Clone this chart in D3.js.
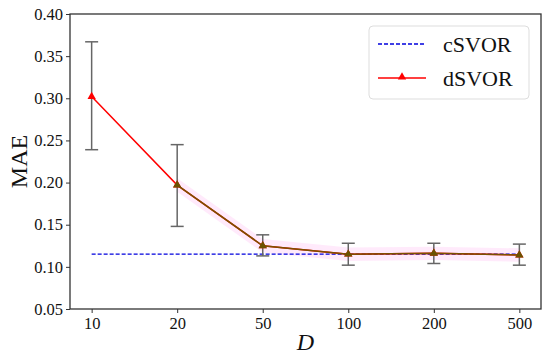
<!DOCTYPE html>
<meta charset="utf-8">
<style>
  body { margin: 0; background: #fff; }
  text { font-family: "Liberation Serif", "DejaVu Serif", serif; fill: #111; }
</style>
<svg width="550" height="356"></svg>
<script src="https://cdn.jsdelivr.net/npm/d3@7"></script>
<script>
var dims = ["10", "20", "50", "100", "200", "500"];
var dsvor = [0.302, 0.197, 0.125, 0.115, 0.116, 0.114];
var errLow = [0.239, 0.148, 0.113, 0.102, 0.104, 0.102];
var errHigh = [0.367, 0.245, 0.138, 0.128, 0.128, 0.127];
var csvor = [0.115, 0.115, 0.115, 0.115, 0.115, 0.115];
// overlapping second run, drawn from D=20 on
var overlayDims = ["20", "50", "100", "200", "500"];
var overlayVals = [0.197, 0.125, 0.115, 0.116, 0.114];
var bandLow = [0.189, 0.117, 0.107, 0.108, 0.106];
var bandHigh = [0.205, 0.133, 0.123, 0.124, 0.122];
var yTicks = [0.05, 0.10, 0.15, 0.20, 0.25, 0.30, 0.35, 0.40];

var svg = d3.select("svg"),
    pLeft = 70, pRight = 541, pTop = 14, pBottom = 309;

var x = d3.scalePoint().domain(dims).range([pLeft, pRight]).padding(0.253);
var y = d3.scaleLinear().domain([0.05, 0.40]).range([pBottom, pTop]);

// shaded band
svg.append("path")
    .datum(overlayDims.map(function(d, i) { return {d: d, lo: bandLow[i], hi: bandHigh[i]}; }))
    .attr("fill", "#ff55dd")
    .attr("fill-opacity", 0.12)
    .attr("d", d3.area()
        .x(function(p) { return x(p.d); })
        .y0(function(p) { return y(p.lo); })
        .y1(function(p) { return y(p.hi); }));

// cSVOR dashed
svg.append("path")
    .datum(dims.map(function(d, i) { return [x(d), y(csvor[i])]; }))
    .attr("fill", "none")
    .attr("stroke", "#0000dd")
    .attr("stroke-width", 1.3)
    .attr("stroke-dasharray", "4,2")
    .attr("d", d3.line());

// error bars
var eb = svg.append("g").attr("stroke", "#666").attr("stroke-width", 1.5);
dims.forEach(function(d, i) {
  eb.append("line").attr("x1", x(d)).attr("x2", x(d)).attr("y1", y(errLow[i])).attr("y2", y(errHigh[i]));
  eb.append("line").attr("x1", x(d) - 6.5).attr("x2", x(d) + 6.5).attr("y1", y(errLow[i])).attr("y2", y(errLow[i]));
  eb.append("line").attr("x1", x(d) - 6.5).attr("x2", x(d) + 6.5).attr("y1", y(errHigh[i])).attr("y2", y(errHigh[i]));
});

// dSVOR line
svg.append("path")
    .datum(dims.map(function(d, i) { return [x(d), y(dsvor[i])]; }))
    .attr("fill", "none")
    .attr("stroke", "#ff0000")
    .attr("stroke-width", 1.5)
    .attr("d", d3.line());

var tri = d3.symbol().type(d3.symbolTriangle).size(30);
svg.append("g").selectAll("path")
    .data(dims)
    .enter().append("path")
    .attr("transform", function(d, i) { return "translate(" + x(d) + "," + y(dsvor[i]) + ")"; })
    .attr("fill", "#ff0000")
    .attr("d", tri);

// overlapping run
svg.append("path")
    .datum(overlayDims.map(function(d, i) { return [x(d), y(overlayVals[i])]; }))
    .attr("fill", "none")
    .attr("stroke", "#7a5200")
    .attr("stroke-width", 1.5)
    .attr("d", d3.line());
svg.append("g").selectAll("path")
    .data(overlayDims)
    .enter().append("path")
    .attr("transform", function(d, i) { return "translate(" + x(d) + "," + y(overlayVals[i]) + ")"; })
    .attr("fill", "#6b5200")
    .attr("d", tri);

// axes
var gx = svg.append("g")
    .attr("transform", "translate(0," + pBottom + ")")
    .call(d3.axisBottom(x).tickSizeOuter(0).tickSize(4).tickPadding(4));
var gy = svg.append("g")
    .attr("transform", "translate(" + pLeft + ",0)")
    .call(d3.axisLeft(y).tickValues(yTicks).tickFormat(d3.format(".2f")).tickSizeOuter(0).tickSize(4).tickPadding(3));
[gx, gy].forEach(function(g) {
  g.attr("font-family", null).attr("font-size", null);
  g.select(".domain").remove();
  g.selectAll("line").attr("stroke", "#333").attr("stroke-width", 1);
  g.selectAll("text").style("font-size", "16.5px").attr("fill", "#111");
});

svg.append("rect")
    .attr("x", pLeft).attr("y", pTop)
    .attr("width", pRight - pLeft).attr("height", pBottom - pTop)
    .attr("fill", "none").attr("stroke", "#333").attr("stroke-width", 1.3);

// axis titles
svg.append("text")
    .attr("transform", "translate(27," + ((pTop + pBottom) / 2) + ")rotate(-90)")
    .attr("text-anchor", "middle")
    .style("font-size", "24px")
    .text("MAE");
svg.append("text")
    .attr("x", (pLeft + pRight) / 2)
    .attr("y", 350)
    .attr("text-anchor", "middle")
    .style("font-size", "24px")
    .style("font-style", "italic")
    .text("D");

// legend
var lg = svg.append("g");
lg.append("rect")
    .attr("x", 369).attr("y", 26).attr("width", 160).attr("height", 73).attr("rx", 4)
    .attr("fill", "#fff").attr("fill-opacity", 0.8).attr("stroke", "#ddd");
lg.append("line").attr("x1", 378).attr("x2", 426).attr("y1", 44).attr("y2", 44)
    .attr("stroke", "#0000dd").attr("stroke-width", 1.3).attr("stroke-dasharray", "4,2");
lg.append("line").attr("x1", 378).attr("x2", 426).attr("y1", 78).attr("y2", 78)
    .attr("stroke", "#ff0000").attr("stroke-width", 1.5);
lg.append("path").attr("transform", "translate(402,77)").attr("fill", "#ff0000").attr("d", tri);
lg.append("text").attr("x", 443).attr("y", 52).style("font-size", "22px").text("cSVOR");
lg.append("text").attr("x", 443).attr("y", 86).style("font-size", "22px").text("dSVOR");
</script>
